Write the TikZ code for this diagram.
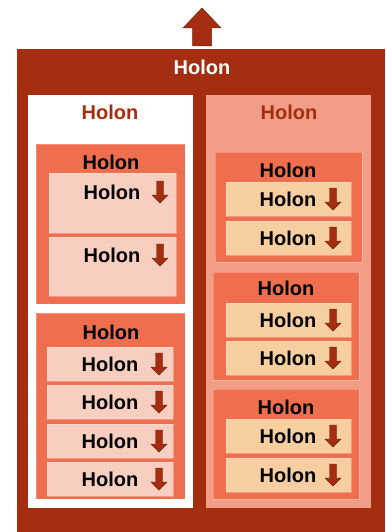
\documentclass[tikz,border=0pt]{standalone}
\usepackage{fontspec}
\setmainfont{Liberation Sans}
\usetikzlibrary{fit}
\definecolor{holdark}{RGB}{165,46,16}
\definecolor{holorange}{RGB}{239,110,77}
\definecolor{holpink}{RGB}{242,158,134}
\definecolor{holrose}{RGB}{248,206,193}
\definecolor{holpeach}{RGB}{246,206,160}

\begin{document}
\begin{tikzpicture}[x=1pt,y=-1pt,
  font=\fontsize{20}{24}\selectfont\bfseries,
  r/.style={inner sep=0,outer sep=0},
  grp/.style={r,fill=holorange,draw=white,draw opacity=.25,line width=.8pt},
  lf/.style={r,fill=holrose,draw=white,draw opacity=.3,line width=.8pt},
  lp/.style={r,fill=holpeach,draw=white,draw opacity=.3,line width=.8pt},
  t/.style={inner sep=0},
  dn/.pic={\filldraw[fill=holdark,draw=holdark!70!black,line width=.4pt]
    (-3.5,-11)--(3.5,-11)--(3.5,3)--(8,3)--(0,11)--(-8,3)--(-3.5,3)--cycle;}]
\useasboundingbox (0,0) rectangle (385,532);
% whole
\node[r,fill=holdark,fit={(17,49)(385,532)}] (top) {};
\node[t,text=white] (topt) at (202,67) {Holon};
\filldraw[fill=holdark,draw=holdark!70!black,line width=.5pt]
  (202,8)--(221,28)--(211.5,28)--(211.5,46)--(192.5,46)--(192.5,28)--(183,28)--cycle;
% two parts
\node[r,fill=white,fit={(28,95)(193,508)}] (pl) {};
\node[r,fill=holpink,fit={(206,95)(371,508)}] (pr) {};
\node[t,text=holdark] (plt) at (110,112) {Holon};
\node[t,text=holdark] (prt) at (289,112) {Holon};
% left
\node[grp,fit={(36,144)(185,304)}] (g1) {};
\node[t] (g1t) at (111,162) {Holon};
\node[lf,fit={(49,173)(176,233)}] (l11) {};
\node[t] (l11t) at (112,192) {Holon};
\pic at (160,192) {dn};
\node[lf,fit={(49,237)(176,296)}] (l12) {};
\node[t] (l12t) at (112,255) {Holon};
\pic at (160,255) {dn};
\node[grp,fit={(36,313)(185,499)}] (g2) {};
\node[t] (g2t) at (111,332) {Holon};
\foreach \y [count=\i] in {347,385,424,462} {
  \node[lf,fit={(47,\y)(173,\y+34)}] (l2\i) {};
  \node[t] (l2\i t) at (110,\y+17) {Holon};
  \pic at (159,\y+17) {dn};
}
% right
\node[grp,fit={(215,152)(362,262)}] (g3) {};
\node[t] (g3t) at (288,170) {Holon};
\node[grp,fit={(213,272)(359,380)}] (g4) {};
\node[t] (g4t) at (286,288) {Holon};
\node[grp,fit={(213,389)(359,499)}] (g5) {};
\node[t] (g5t) at (286,407) {Holon};
\foreach \y [count=\i] in {182,221,303,341,419,458} {
  \node[lp,fit={(226,\y)(351,\y+34)}] (l3\i) {};
  \node[t] (l3\i t) at (288,\y+17) {Holon};
  \pic at (333,\y+17) {dn};
}
\end{tikzpicture}
\end{document}
